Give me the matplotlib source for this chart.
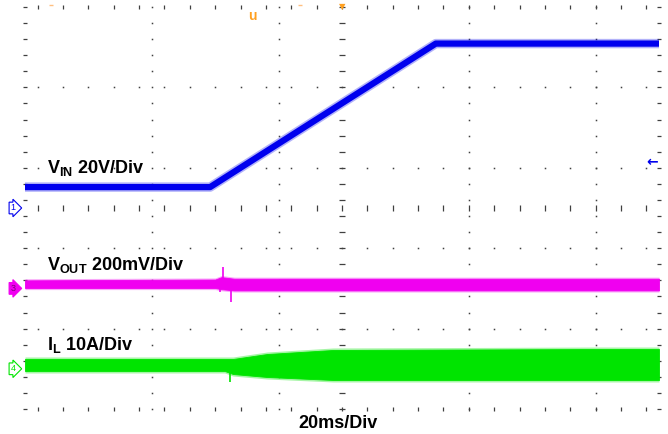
import matplotlib.pyplot as plt
import numpy as np

plt.rcParams['font.family'] = ['Liberation Sans', 'DejaVu Sans']
plt.rcParams['mathtext.fontset'] = 'custom'
plt.rcParams['mathtext.rm'] = 'Liberation Sans'
plt.rcParams['mathtext.bf'] = 'Liberation Sans:bold'

# channel scale (unit/div) and ground reference (div)
vin_scale, vin_ref = 20.0, 2.5
vout_scale, vout_ref = 0.2, 1.5
il_scale, il_ref = 10.0, 0.5

# VIN trace, time in ms, volts
vin_t = [0, 29.2, 64.8, 100]
vin_v = [5.2, 5.2, 40.9, 40.9]

# VOUT noise band (V) and the step transient
vout_t = [0, 30.0, 31.0, 33.0, 100]
vout_hi = [0.020, 0.022, 0.028, 0.024, 0.024]
vout_lo = [0.001, 0.001, -0.002, -0.005, -0.005]
vout_spike_t = [30.8, 31.2, 32.5]
vout_spike_v = [-0.009, 0.053, -0.034]

# inductor current ripple band (A)
il_t = [0, 31.5, 32.8, 38.2, 48.6, 90.7, 100]
il_hi = [1.22, 1.22, 1.22, 1.84, 2.34, 2.46, 2.46]
il_lo = [-0.27, -0.27, -0.65, -1.02, -1.39, -1.39, -1.39]
il_spike_t = [32.3]
il_spike_v = [-1.64]

# screen grid (ms / div)
grid_cols = [20, 40, 70, 90]
edge_cols = [0, 100]
center_col = 50
grid_rows = [1, 2, 3, 4]
edge_rows = [0, 5]
center_row = 2.5

blue = '#0000ee'
magenta = '#f000f0'
green = '#00e400'
grey = '#404040'


def to_div(v, scale, ref):
    return ref + np.asarray(v) / scale


fig = plt.figure(figsize=(6.68, 4.34), dpi=100)
ax = fig.add_axes([0, 0, 1, 1])
ax.set_xlim(-3.943, 101.42)
ax.set_ylim(-0.311, 5.087)
ax.axis('off')

# grid dots and ticks
minor_t = np.arange(2, 100, 4)
minor_y = np.arange(0, 5.01, 0.2)
for c in grid_cols:
    ax.plot([c] * len(minor_y), minor_y, 's', ms=1.1, mew=0, c=grey, zorder=1)
for c in edge_cols:
    ax.plot([c] * len(minor_y), minor_y, '_', ms=3, mew=0.9, c=grey, zorder=1)
ax.plot([center_col] * len(minor_y), minor_y, '_', ms=4.5, mew=0.9, c=grey, zorder=1)
for r in grid_rows:
    ax.plot(minor_t, [r] * len(minor_t), 's', ms=1.1, mew=0, c=grey, zorder=1)
for r in edge_rows:
    ax.plot(minor_t, [r] * len(minor_t), '|', ms=3, mew=0.9, c=grey, zorder=1)
ax.plot(minor_t, [center_row] * len(minor_t), '|', ms=4.5, mew=0.9, c=grey, zorder=1)

# VIN
vin_y = to_div(vin_v, vin_scale, vin_ref)
ax.plot(vin_t, vin_y, c=blue, lw=6.8, alpha=0.3, solid_capstyle='butt', zorder=3)
ax.plot(vin_t, vin_y, c=blue, lw=4.5, solid_capstyle='butt', zorder=3)

# VOUT
vout_lo_d = to_div(vout_lo, vout_scale, vout_ref)
vout_hi_d = to_div(vout_hi, vout_scale, vout_ref)
ax.fill_between(vout_t, vout_lo_d - 0.02, vout_hi_d + 0.02, color=magenta,
                alpha=0.35, lw=0, zorder=3)
ax.fill_between(vout_t, vout_lo_d, vout_hi_d, color=magenta, lw=0.6, zorder=3)
ax.vlines(vout_spike_t, vout_ref, to_div(vout_spike_v, vout_scale, vout_ref),
          color=magenta, lw=1.2, zorder=3)

# IL
il_lo_d = to_div(il_lo, il_scale, il_ref)
il_hi_d = to_div(il_hi, il_scale, il_ref)
ax.fill_between(il_t, il_lo_d - 0.025, il_hi_d + 0.025, color=green,
                alpha=0.35, lw=0, zorder=3)
ax.fill_between(il_t, il_lo_d, il_hi_d, color=green, lw=0.6, zorder=3)
ax.vlines(il_spike_t, il_ref, to_div(il_spike_v, il_scale, il_ref),
          color=green, lw=1.2, zorder=3)

# channel markers
ax.text(-1.9, vin_ref, '1', fontsize=6.5, color=blue, ha='center', va='center',
        bbox=dict(boxstyle='rarrow,pad=0.15', fc='white', ec=blue, lw=0.8), zorder=4)
ax.text(-1.9, vout_ref, '3', fontsize=6.5, color='#800080', ha='center', va='center',
        bbox=dict(boxstyle='rarrow,pad=0.15', fc=magenta, ec=magenta, lw=0.8), zorder=4)
ax.text(-1.9, il_ref, '4', fontsize=6.5, color=green, ha='center', va='center',
        bbox=dict(boxstyle='rarrow,pad=0.15', fc='white', ec=green, lw=0.8), zorder=4)

# trigger markers
ax.text(50, 5.0, '\u25bc', fontsize=6, color='#ffa020', ha='center', va='center',
        family='DejaVu Sans', zorder=4)
ax.text(35.8, 4.89, 'u', fontsize=10, color='#ffa020', fontweight='bold',
        ha='center', va='center', zorder=4)
ax.plot([4.1, 43.4], [5.03, 5.03], '_', ms=3, mew=1, c='#ffc080', zorder=4)
ax.text(98.9, 3.07, '\u2190', fontsize=10, color=blue, fontweight='bold',
        ha='center', va='center', family='DejaVu Sans', zorder=4)

# labels
ax.text(3.47, 2.935, r'$\mathbf{V}_{\mathbf{IN}}$ 20V/Div', fontsize=13,
        fontweight='bold', va='baseline', zorder=5)
ax.text(3.47, 1.729, r'$\mathbf{V}_{\mathbf{OUT}}$ 200mV/Div', fontsize=13,
        fontweight='bold', va='baseline', zorder=5)
ax.text(3.47, 0.734, r'$\mathbf{I}_{\mathbf{L}}$ 10A/Div', fontsize=13,
        fontweight='bold', va='baseline', zorder=5)
fig.text(338 / 668, 1 - 424 / 434, '20ms/Div', fontsize=13, fontweight='bold',
         ha='center', va='center')

fig.savefig('out.png', dpi=100)
